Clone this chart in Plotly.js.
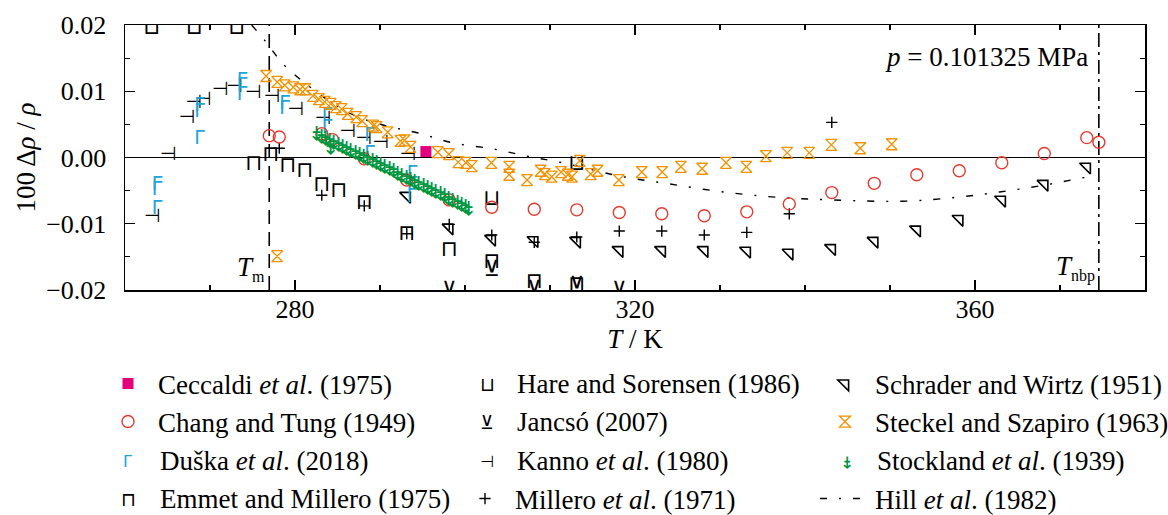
<!DOCTYPE html>
<html><head><meta charset="utf-8">
<script src="https://cdn.plot.ly/plotly-3.0.1.min.js"></script>
<style>html,body{margin:0;padding:0;background:#fff}#chart{width:1168px;height:515px}</style>
</head><body><div id="chart"></div>
<script>
// ---------------- data (T in K, 100*Δρ/ρ) ----------------
const refLineT = [276.97, 374.57];            // T_m, T_nbp

const ceccaldiT = [295.4];
const ceccaldiV = [0.0009];

const changT = [276.97, 278.15, 283.15, 284.4, 288.15, 293.15, 298.15, 303.15, 308.15, 313.15, 318.15, 323.15, 328.15, 333.15, 338.15, 343.15, 348.15, 353.15, 358.15, 363.15, 368.15, 373.15, 374.57];
const changV = [0.0033, 0.0031, 0.0036, 0.0027, -0.0002, -0.0034, -0.0064, -0.0075, -0.0078, -0.0079, -0.0083, -0.0085, -0.0088, -0.0082, -0.0070, -0.0053, -0.0039, -0.0026, -0.0020, -0.0008, 0.0006, 0.0030, 0.0023];

const duskaT = [263.15, 263.15, 263.15, 268.15, 268.15, 268.15, 273.15, 273.15, 273.15, 278.15, 278.15, 283.15, 283.15, 288.15, 288.15, 293.15, 293.15, 293.15];
const duskaV = [-0.0028, -0.0035, -0.0064, 0.0091, 0.0082, 0.0042, 0.0129, 0.0122, 0.0108, 0.0094, 0.0087, 0.0076, 0.0059, 0.0046, 0.0019, -0.0011, -0.0028, -0.0046];

const emmetT = [275.15, 277.15, 279.15, 281.15, 283.15, 285.15, 288.15, 293.15, 298.15, 303.15, 308.15, 313.15];
const emmetV = [-0.0011, 0.0003, -0.0014, -0.0021, -0.0043, -0.0051, -0.0069, -0.0116, -0.0141, -0.0158, -0.0188, -0.0193];

const hareT = [263.15, 268.15, 273.15, 303.15, 313.15];
const hareV = [0.0194, 0.0194, 0.0194, -0.0064, -0.0011];

const jancsoT = [298.15, 303.15, 308.15, 313.15, 318.15];
const jancsoV = [-0.0203, -0.0170, -0.0200, -0.0195, -0.0203];

const kannoT = [263.2, 265.1, 267.3, 268.1, 269.2, 271.2, 272.9, 275.1, 277.3, 280.1, 283.3, 286.2, 288.1, 290.1, 293.3];
const kannoV = [-0.0090, 0.0004, 0.0060, 0.0082, 0.0087, 0.0102, 0.0106, 0.0097, 0.0091, 0.0072, 0.0057, 0.0038, 0.0028, 0.0022, 0.0004];

const milleroT = [278.15, 283.15, 288.15, 293.15, 298.15, 303.15, 308.15, 313.15, 318.15, 323.15, 328.15, 333.15, 338.15, 343.15];
const milleroV = [0.0014, -0.0057, -0.0073, -0.0115, -0.0101, -0.0117, -0.0128, -0.0120, -0.0111, -0.0111, -0.0117, -0.0113, -0.0085, 0.0053];

const schraderT = [293.15, 298.15, 303.15, 308.15, 313.15, 318.15, 323.15, 328.15, 333.15, 338.15, 343.15, 348.15, 353.15, 358.15, 363.15, 368.15, 373.15];
const schraderV = [-0.0058, -0.0106, -0.0123, -0.0125, -0.0126, -0.0140, -0.0140, -0.0140, -0.0141, -0.0144, -0.0137, -0.0126, -0.0109, -0.0093, -0.0064, -0.0040, -0.0014];

const steckelT = [276.6, 277.9, 277.9, 278.8, 279.8, 280.6, 281.2, 282.1, 282.8, 283.5, 284.2, 284.8, 285.5, 286.2, 287.2, 287.9, 289.2, 289.6, 290.9, 292.4, 292.9, 293.6, 296.8, 298.1, 299.2, 300.1, 300.8, 303.1, 305.2, 305.2, 307.3, 308.9, 309.4, 310.2, 311.3, 312.1, 312.6, 313.5, 314.8, 315.6, 318.1, 320.8, 323.2, 325.4, 327.9, 330.7, 333.1, 335.4, 337.9, 340.5, 343.1, 346.5, 350.2];
const steckelV = [0.0123, -0.0149, 0.0114, 0.0109, 0.0106, 0.0103, 0.0103, 0.0093, 0.0088, 0.0084, 0.0081, 0.0076, 0.0073, 0.0066, 0.0061, 0.0055, 0.0048, 0.0046, 0.0038, 0.0025, 0.0026, 0.0016, 0.0008, 0.0005, -0.0007, -0.0008, -0.0013, -0.0008, -0.0014, -0.0026, -0.0034, -0.0020, -0.0025, -0.0029, -0.0022, -0.0026, -0.0029, -0.0005, -0.0025, -0.0020, -0.0034, -0.0022, -0.0022, -0.0014, -0.0017, -0.0008, -0.0014, 0.0002, 0.0007, 0.0007, 0.0019, 0.0014, 0.0020];

const stocklandT = [282.5, 283.0, 283.5, 284.0, 284.1, 284.5, 285.0, 285.5, 286.0, 286.5, 287.0, 287.5, 288.0, 288.5, 289.0, 289.5, 290.0, 290.5, 291.0, 291.5, 292.0, 292.5, 293.0, 293.5, 294.0, 294.5, 295.0, 295.5, 296.0, 296.5, 297.0, 297.5, 298.0, 298.5, 299.0, 299.5, 300.0, 300.3];
const stocklandV = [0.0035, 0.0031, 0.0028, 0.0025, 0.0014, 0.0022, 0.0019, 0.0016, 0.0013, 0.0010, 0.0007, 0.0004, 0.0001, -0.0002, -0.0006, -0.0009, -0.0012, -0.0015, -0.0018, -0.0021, -0.0025, -0.0028, -0.0031, -0.0034, -0.0037, -0.0040, -0.0043, -0.0047, -0.0050, -0.0053, -0.0056, -0.0059, -0.0063, -0.0066, -0.0069, -0.0072, -0.0075, -0.0078];

const hillT = [274.9, 276.55, 277.9, 279.4, 286.1, 290.35, 294.5, 298.6, 303.3, 307.3, 311.5, 318.2, 324.1, 330.4, 336.7, 343.2, 351.5, 357.9, 362.9, 368.0, 373.3];
const hillV = [0.0200, 0.0175, 0.0152, 0.0131, 0.0069, 0.0049, 0.0037, 0.0022, 0.0013, 0.0002, -0.0008, -0.0028, -0.0040, -0.0052, -0.0060, -0.0064, -0.0066, -0.0060, -0.0052, -0.0042, -0.0029];

const xTickVals = [280, 320, 360];
const yTickVals = [-0.02, -0.01, 0, 0.01, 0.02];
const yTickText = ['\u22120.02', '\u22120.01', '0.00', '0.01', '0.02'];

// ---------------- styling ----------------
const SERIF = '"Liberation Serif", "Times New Roman", serif';
const GLYPH = '"DejaVu Sans", sans-serif';
const C = {mag:'#e4007c', red:'#e53a30', cyan:'#1ea4dc', orange:'#f39200', green:'#00963f', black:'#000000'};

function glyphTrace(name, T, V, g, color, pos) {
  return {type:'scatter', mode:'text', name:name, x:T, y:V, text:T.map(() => g.glyph),
    textposition:pos || 'middle center', textfont:{family:GLYPH, size:g.size, color:color, weight:g.weight || 'normal'},
    showlegend:false, hoverinfo:'skip', cliponaxis:true};
}

const G = {
  duska:{glyph:'\u0413', size:19}, emmet:{glyph:'\u2293', size:22}, hare:{glyph:'\u2294', size:22},
  jancso:{glyph:'\u22BB', size:22}, kanno:{glyph:'\u22A3', size:19}, stock:{glyph:'\u2908', size:19, weight:'bold'}
};

const traces = [
  {type:'scatter', mode:'lines', name:'Hill <i>et al</i>. (1982)', x:hillT, y:hillV,
   line:{color:'#000', width:1.4, dash:'7px,12px,2px,12px', shape:'spline', smoothing:1},
   legend:'legend6', hoverinfo:'skip'},
  glyphTrace('Emmet and Millero (1975)', emmetT, emmetV, G.emmet, C.black),
  glyphTrace('Hare and Sorensen (1986)', hareT, hareV, G.hare, C.black),
  glyphTrace('Jancs\u00f3 (2007)', jancsoT, jancsoV, G.jancso, C.black),
  glyphTrace('Kanno et al. (1980)', kannoT, kannoV, G.kanno, C.black),
  {type:'scatter', mode:'markers', name:'Millero <i>et al</i>. (1971)', x:milleroT, y:milleroV,
   marker:{symbol:'cross-thin-open', size:8, color:'#000', line:{color:'#000', width:1.4}}, legend:'legend4', hoverinfo:'skip'},
  {type:'scatter', mode:'markers', name:'Schrader and Wirtz (1951)', x:schraderT, y:schraderV,
   marker:{symbol:'triangle-ne-open', size:12, color:'#000', line:{color:'#000', width:1.6}}, legend:'legend5', hoverinfo:'skip'},
  glyphTrace('Du\u0161ka et al. (2018)', duskaT, duskaV, G.duska, C.cyan, 'bottom right'),
  {type:'scatter', mode:'markers', name:'Chang and Tung (1949)', x:changT, y:changV,
   marker:{symbol:'circle-open', size:12, color:C.red, line:{color:C.red, width:1.4}}, legend:'legend2', hoverinfo:'skip'},
  glyphTrace('Stockland et al. (1939)', stocklandT, stocklandV, G.stock, C.green),
  {type:'scatter', mode:'markers', name:'Steckel and Szapiro (1963)', x:steckelT, y:steckelV,
   marker:{symbol:'hourglass-open', size:11, color:C.orange, line:{color:C.orange, width:1.3}}, legend:'legend3', hoverinfo:'skip'},
  {type:'scatter', mode:'markers', name:'Ceccaldi <i>et al</i>. (1975)', x:ceccaldiT, y:ceccaldiV,
   marker:{symbol:'square', size:11, color:C.mag}, legend:'legend', hoverinfo:'skip'}
];

// ---------------- layout geometry ----------------
const W = 1168, H = 515, ML = 125, MR = 23, MT = 25, MB = 225;
const PW = W - ML - MR, PH = H - MT - MB;
const px2x = p => (p - ML) / PW;
const py2y = p => (H - MB - p) / PH;

const rowY = [384, 422, 461, 499].map(py2y);
const colText = [158, 515, 875];
const colSym = [128, 487, 847];

const legendFont = {family:SERIF, size:27, color:'#000'};
function legendAt(col, row) {
  return {x:px2x(colText[col] - 60), y:rowY[row], xref:'paper', yref:'paper', xanchor:'left', yanchor:'middle',
    font:legendFont, bgcolor:'rgba(0,0,0,0)', borderwidth:0, itemwidth:50, itemclick:false, itemdoubleclick:false};
}

const glyphLegend = [
  {col:0, row:2, g:G.duska, color:C.cyan, label:'Du\u0161ka <i>et al</i>. (2018)'},
  {col:0, row:3, g:G.emmet, color:C.black, label:'Emmet and Millero (1975)'},
  {col:1, row:0, g:G.hare, color:C.black, label:'Hare and Sorensen (1986)'},
  {col:1, row:1, g:G.jancso, color:C.black, label:'Jancs\u00f3 (2007)'},
  {col:1, row:2, g:G.kanno, color:C.black, label:'Kanno <i>et al</i>. (1980)'},
  {col:2, row:2, g:G.stock, color:C.green, label:'Stockland <i>et al</i>. (1939)'}
];

const annotations = [];
glyphLegend.forEach(e => {
  annotations.push({xref:'paper', yref:'paper', x:px2x(colSym[e.col]), y:rowY[e.row], xanchor:'center', yanchor:'middle',
    text:e.g.glyph, showarrow:false, font:{family:GLYPH, size:e.g.size - 3, color:e.color, weight:e.g.weight || 'normal'}});
  annotations.push({xref:'paper', yref:'paper', x:px2x(colText[e.col]), y:rowY[e.row], xanchor:'left', yanchor:'middle',
    text:e.label, showarrow:false, font:legendFont});
});
annotations.push({xref:'paper', yref:'paper', x:px2x(1090), y:py2y(57), xanchor:'right', yanchor:'middle',
  text:'<i>p</i> = 0.101325 MPa', showarrow:false, font:{family:SERIF, size:27, color:'#000'}});
annotations.push({xref:'x', yref:'paper', x:refLineT[0], xshift:-2, y:py2y(268), xanchor:'right', yanchor:'middle',
  text:'<i>T</i><sub><span style="font-size:16px">m</span></sub>', showarrow:false, font:{family:SERIF, size:27, color:'#000'}});
annotations.push({xref:'x', yref:'paper', x:refLineT[1], xshift:-2, y:py2y(268), xanchor:'right', yanchor:'middle',
  text:'<i>T</i><sub><span style="font-size:16px">nbp</span></sub>', showarrow:false, font:{family:SERIF, size:27, color:'#000'}});

const shapes = refLineT.map((t, i) => ({type:'line', xref:'x', yref:'paper', x0:t, x1:t, y0:0, y1:1, layer:'below',
  line:{color:'#000', width:1.6, dash: i === 0 ? '14px,8px' : '14px,5px,3px,5px'}}));

const axisCommon = {showgrid:false, showline:true, linecolor:'#000', linewidth:1.5, mirror:'ticks',
  ticks:'inside', ticklen:10, tickwidth:1.2, tickcolor:'#000', automargin:false,
  tickfont:{family:SERIF, size:26, color:'#000'}};

const layout = {
  width:W, height:H, margin:{l:ML, r:MR, t:MT, b:MB, pad:0, autoexpand:false},
  paper_bgcolor:'#fff', plot_bgcolor:'#fff', showlegend:true,
  font:{family:SERIF, size:26, color:'#000'},
  xaxis: Object.assign({}, axisCommon, {range:[260, 380], tickmode:'array', tickvals:xTickVals,
    minor:{ticks:'inside', ticklen:5, tickwidth:1.2, tickcolor:'#000', dtick:10, tick0:260, showgrid:false},
    zeroline:false, ticklabelstandoff:-5,
    title:{text:'<i>T</i> / K', font:{family:SERIF, size:27, color:'#000'}, standoff:6}}),
  yaxis: Object.assign({}, axisCommon, {range:[-0.02, 0.02], tickmode:'array', tickvals:yTickVals, ticktext:yTickText,
    minor:{ticks:'inside', ticklen:5, tickwidth:1.2, tickcolor:'#000', dtick:0.005, tick0:0, showgrid:false},
    zeroline:true, zerolinecolor:'#000', zerolinewidth:1.4, ticklabelstandoff:12,
    title:{text:'100 \u0394<i>\u03c1</i> / <i>\u03c1</i>', font:{family:SERIF, size:27, color:'#000'}, standoff:2}}),
  legend: legendAt(0, 0),
  legend2: legendAt(0, 1),
  legend3: legendAt(2, 1),
  legend4: legendAt(1, 3),
  legend5: legendAt(2, 0),
  legend6: legendAt(2, 3),
  annotations: annotations,
  shapes: shapes
};

Plotly.newPlot('chart', traces, layout, {displayModeBar:false, staticPlot:true});
</script></body></html>
